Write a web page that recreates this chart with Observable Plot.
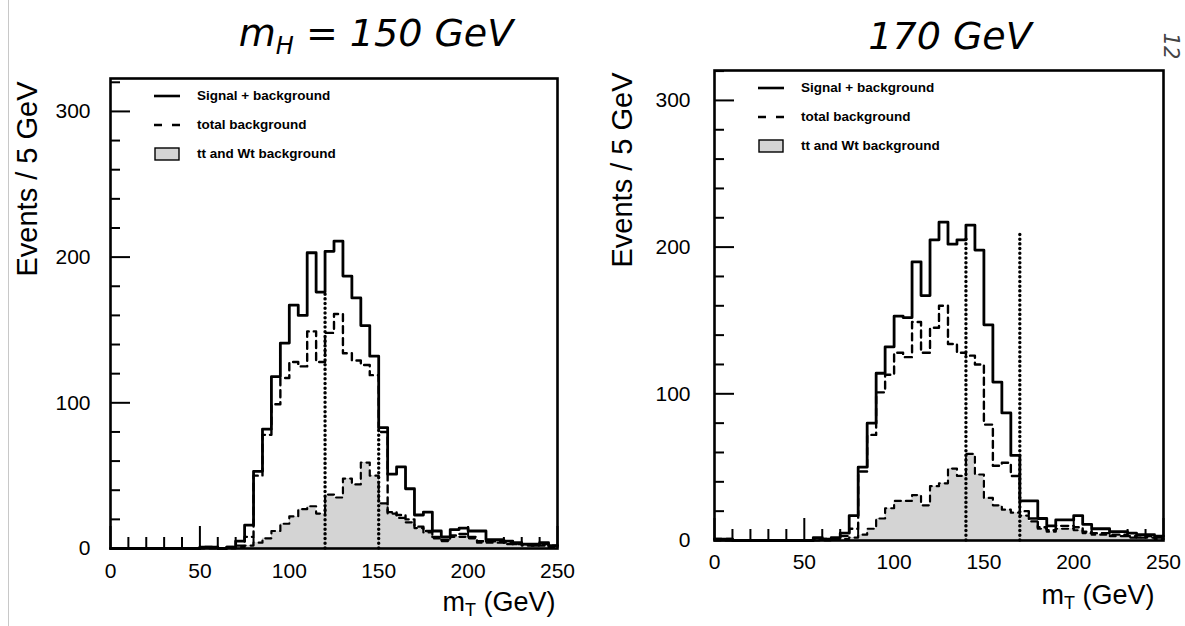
<!DOCTYPE html>
<html><head><meta charset="utf-8">
<script src="https://cdn.jsdelivr.net/npm/d3@7"></script>
<script src="https://cdn.jsdelivr.net/npm/@observablehq/plot@0.6"></script>
<style>
html,body{margin:0;padding:0;background:#fff;}
#root{position:relative;width:1185px;height:626px;overflow:hidden;background:#fff;font-family:"Liberation Sans",Arial,sans-serif;color:#000;}
.panel{position:absolute;top:0;}
.lbl{position:absolute;white-space:nowrap;line-height:1;}
.ylab{font-size:29px;transform:translate(-50%,-50%) rotate(-90deg);}
.xlab{font-size:27px;transform:translate(-50%,-50%);}
.xlab sub{font-size:18px;vertical-align:-5px;}
.title{font-family:"DejaVu Sans";font-style:italic;font-size:38px;transform:translate(-50%,-50%);}
.title sub{font-size:24px;vertical-align:-8px;}
.legend{position:absolute;font-family:"Liberation Sans",Arial,sans-serif;font-weight:bold;font-size:13.5px;}
.legend .row{position:relative;height:29px;display:flex;align-items:center;}
.legend svg{margin-right:17px;}
</style></head>
<body>
<div id="root">
  <div style="position:absolute;left:8px;top:0;width:1px;height:626px;background:#c8c8c8"></div>
  <div id="p1" class="panel" style="left:0px"></div>
  <div id="p2" class="panel" style="left:595px"></div>
</div>
<script>
// ---- data: events per 5 GeV bin, bins start at 0,5,...,245 GeV ----
const binStart = d3.range(0, 250, 5);
const xMajor = [0, 50, 100, 150, 200, 250];
const xMinor = d3.range(10, 250, 10).filter(d => d % 50 !== 0);
const yMajor = [0, 100, 200, 300];
const yMinor = [20, 40, 60, 80, 120, 140, 160, 180, 220, 240, 260, 280, 320];

// mH = 150 GeV panel
const sigBgL = [0,0,0,0,0,0,0,0,0,0, 1,1,0,1,5,16,53,82,118,141,
  167,160,203,176,204,211,187,172,153,132, 83,51,56,41,23,25,12,8,13,14,
  12,12,6,6,5,4,3,3,4,2];
const totBgL = [0,0,0,0,0,0,0,0,0,0, 1,1,0,1,2,8,50,78,99,117,
  128,125,149,128,148,161,134,129,126,119, 80,25,23,20,15,12,8,6,9,10,
  8,5,5,5,4,3,3,2,3,2];
const ttWtL = [0,0,0,0,0,0,0,0,0,0, 0,0,0,0,1,2,4,7,12,17,
  22,27,29,24,37,35,48,44,59,50, 31,24,21,18,14,11,7,5,8,8,
  7,4,4,4,3,3,2,2,2,1];
const cutsL = [{x: 120, top: 176}, {x: 150, top: 83}];

// mH = 170 GeV panel
const sigBgR = [1,1,0,0,0,0,0,0,0,0, 0,2,1,2,5,17,50,80,114,132,
  153,152,190,167,205,217,202,205,215,198, 147,108,87,58,27,27,15,10,14,14,
  17,11,8,8,6,6,5,4,4,3];
const totBgR = [1,1,0,0,0,0,0,0,0,0, 0,1,1,1,3,8,47,72,101,113,
  128,125,149,128,145,160,134,128,126,120, 79,51,53,44,20,15,9,7,10,10,
  9,6,5,5,4,4,3,2,3,2];
const ttWtR = [0,0,0,0,0,0,0,0,0,0, 0,0,0,1,1,2,4,8,15,22,
  27,27,31,24,37,39,49,44,59,45, 29,24,21,19,17,13,8,6,8,8,
  7,5,4,4,3,3,2,2,2,1];
const cutsR = [{x: 140, top: 208}, {x: 170, top: 211}];

const legendItems = ["Signal + background", "total background", "tt and Wt background"];
const yLabel = "Events / 5 GeV";

function steps(vals) {
  const pts = binStart.map((x, i) => ({x, y: vals[i]}));
  pts.push({x: 250, y: vals[vals.length - 1]});
  return pts;
}

function panel(o) {
  const pxPerX = (o.width - o.mL - o.mR) / 250;
  const pxPerY = (o.height - o.mT - o.mB) / o.yMax;
  const tickLenX = px => px / pxPerX; // y-axis tick length in x units
  const tickLenY = px => px / pxPerY; // x-axis tick length in y units
  return Plot.plot({
    width: o.width, height: o.height,
    marginLeft: o.mL, marginRight: o.mR, marginTop: o.mT, marginBottom: o.mB,
    x: {domain: [0, 250], label: null},
    y: {domain: [0, o.yMax], label: null},
    style: {fontFamily: "Liberation Sans, Arial, sans-serif", fontSize: "21px", background: "transparent", color: "#000"},
    marks: [
      Plot.ruleX(xMajor, {x: d => d, y1: 0, y2: tickLenY(22), stroke: "#000", strokeWidth: 2}),
      Plot.ruleX(xMinor, {x: d => d, y1: 0, y2: tickLenY(11), stroke: "#000", strokeWidth: 2}),
      Plot.areaY(steps(o.tt), {x: "x", y: "y", curve: "step-after", fill: "#d4d4d4"}),
      Plot.line(steps(o.tt), {x: "x", y: "y", curve: "step-after", stroke: "#000", strokeWidth: 2.2, strokeDasharray: "6,5"}),
      Plot.line(steps(o.bg), {x: "x", y: "y", curve: "step-after", stroke: "#000", strokeWidth: 2.4, strokeDasharray: "7,5"}),
      Plot.line(steps(o.sig), {x: "x", y: "y", curve: "step-after", stroke: "#000", strokeWidth: 2.8}),
      Plot.ruleX(o.cuts, {x: "x", y1: 0, y2: "top", stroke: "#000", strokeWidth: 3.4, strokeDasharray: "0.1,4.6", strokeLinecap: "round"}),
      Plot.ruleY(yMajor, {y: d => d, x1: 0, x2: tickLenX(20), stroke: "#000", strokeWidth: 2}),
      Plot.ruleY(yMinor.filter(d => d < o.yMax), {y: d => d, x1: 0, x2: tickLenX(10), stroke: "#000", strokeWidth: 2}),
      Plot.axisX({ticks: xMajor, tickSize: 0, tickPadding: o.xPad, tickFormat: d => String(d)}),
      Plot.axisY({ticks: yMajor, tickSize: 0, tickPadding: o.yPad, tickFormat: d => String(d)}),
      Plot.frame({stroke: "#000", strokeWidth: 2.6})
    ]
  });
}

document.getElementById("p1").append(panel({
  width: 590, height: 626, mL: 110, mR: 33, mT: 78, mB: 78, yMax: 322.6,
  sig: sigBgL, bg: totBgL, tt: ttWtL, cuts: cutsL, xPad: 15, yPad: 20
}));
document.getElementById("p2").append(panel({
  width: 590, height: 626, mL: 119, mR: 22, mT: 70, mB: 86, yMax: 320.4,
  sig: sigBgR, bg: totBgR, tt: ttWtR, cuts: cutsR, xPad: 14, yPad: 24
}));

// ---- text overlays ----
const root = document.getElementById("root");
function addLabel(cls, html, left, top, extra) {
  const d = document.createElement("div");
  d.className = "lbl " + cls;
  d.innerHTML = html;
  d.style.left = left + "px";
  d.style.top = top + "px";
  if (extra) Object.assign(d.style, extra);
  root.append(d);
}
addLabel("ylab", yLabel, 27, 179);
addLabel("ylab", yLabel, 622, 170);
addLabel("xlab", "m<sub>T</sub> (GeV)", 499, 604);
addLabel("xlab", "m<sub>T</sub> (GeV)", 1098, 597);
addLabel("title", "m<sub>H</sub> = 150 GeV", 376, 36);
addLabel("title", "170 GeV", 950, 36);
addLabel("title", "12", 1170, 46, {fontSize: "21px", transform: "translate(-50%,-50%) rotate(90deg)", color: "#444"});

function addLegend(left, top) {
  const lg = document.createElement("div");
  lg.className = "legend";
  lg.style.left = left + "px";
  lg.style.top = top + "px";
  const swatches = [
    '<svg width="26" height="12"><line x1="0" y1="6" x2="26" y2="6" stroke="#000" stroke-width="2.6"/></svg>',
    '<svg width="26" height="12"><line x1="0" y1="6" x2="26" y2="6" stroke="#000" stroke-width="2.6" stroke-dasharray="8,10"/></svg>',
    '<svg width="26" height="14"><rect x="1" y="1" width="24" height="12" fill="#d4d4d4" stroke="#000" stroke-width="1.4"/></svg>'
  ];
  legendItems.forEach((t, i) => {
    const r = document.createElement("div");
    r.className = "row";
    r.innerHTML = swatches[i] + "<span>" + t + "</span>";
    lg.append(r);
  });
  root.append(lg);
}
addLegend(154, 81);
addLegend(758, 73);
</script>
</body></html>
